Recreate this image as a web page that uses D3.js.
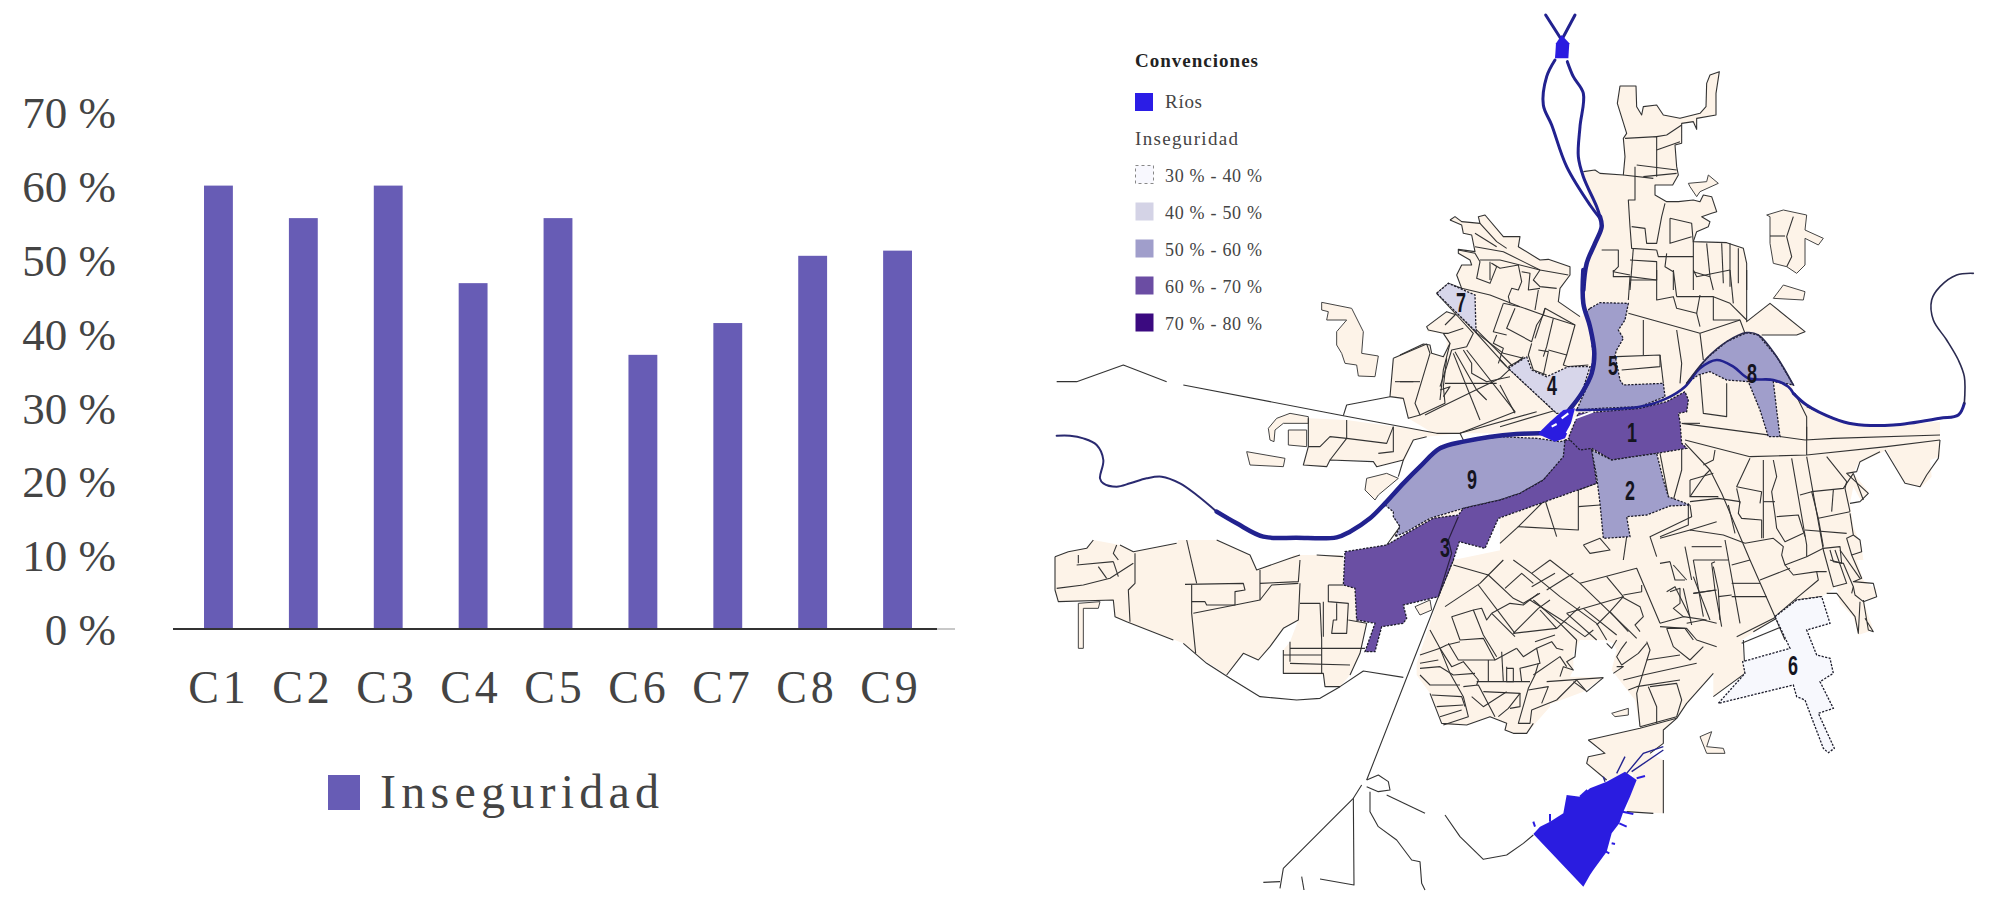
<!DOCTYPE html>
<html>
<head>
<meta charset="utf-8">
<script src="https://cdn.jsdelivr.net/npm/d3@7"></script>
<style>
  html, body { margin: 0; background: #fff; }
  text { font-family: "Liberation Serif", serif; fill: #444; }
  .axis path, .axis line { display: none; }
</style>
</head>
<body>
<svg id="chart" width="1999" height="909"></svg>
<script>
// bar chart data
var categories = ["C1","C2","C3","C4","C5","C6","C7","C8","C9"];
var inseguridad = [60, 55.6, 60, 46.8, 55.6, 37.1, 41.4, 50.5, 51.2];
var yTicks = [0,10,20,30,40,50,60,70];

// map legend
var legendRanges = ["30 % - 40 %","40 % - 50 %","50 % - 60 %","60 % - 70 %","70 % - 80 %"];
var legendColors = ["#f8f8fe","#d4d3e6","#a09ecb","#6b4da3","#3b0a80"];

// map tiles: traced points are flat x,y lists in the coordinates of each tile
var tileOrigins = {A:[1050,270], B:[1500,270], C:[1050,540], D:[1500,540], E:[1480,10], P:[1400,200], Q:[1420,560], R:[1660,440]};

var landFill = [
 ["E",[310,485,345,480,360,490,430,495,435,440,430,385,440,370,412,280,420,228,468,228,470,290,485,315,490,290,530,285,550,315,600,325,660,310,678,290,680,220,690,195,718,185,708,250,708,315,650,325,650,358,640,335,605,340,605,400,585,405,590,470,595,495,578,525,525,525,525,555,560,575,595,575,640,570,660,575,670,555,695,560,710,605,695,610,665,620,690,635,685,650,650,665,640,695,740,698,790,715,800,760,800,840,310,840,320,760,350,700,365,650,360,620,330,585]],
 ["B",[250,0,740,0,740,155,810,100,915,185,890,195,785,195,875,340,880,370,920,410,1000,445,1060,462,1180,465,1320,455,1320,560,1290,570,1295,620,1265,650,1215,640,1160,540,1075,580,1060,610,1105,665,1085,695,1060,650,1050,700,1060,770,1085,830,1090,870,0,870,0,500,110,480,250,130]],
 ["B",[180,60,130,115,225,170,255,150,275,290,220,410,170,430,0,470,0,0,100,0]],
 ["P",[150,60,165,50,185,65,240,70,235,50,255,45,310,110,360,110,355,140,420,180,445,178,510,200,510,225,480,265,475,305,540,350,550,350,575,420,570,500,540,600,0,600,0,465,70,432,90,435,95,460,130,470,150,430,130,400,85,390,80,380,140,335,170,345,110,280,145,250,185,265,170,225,185,195,215,195,210,180,175,160,175,148,225,155,215,105,190,100,185,75]],
 ["A",[1030,265,1130,222,1140,245,1190,265,1190,190,1130,185,1215,120,1160,65,1190,42,1240,60,1225,0,1500,0,1500,490,1230,490,1150,490,1075,445,1060,385,1020,380]],
 ["A",[775,445,890,450,1145,485,1230,490,1130,500,1090,510,1065,570,980,590,970,570,840,570,830,590,760,585,775,530]],
 ["A",[1005,705,1060,640,1120,590,1180,530,1250,510,1250,720,1030,800,1010,825,1050,770,1030,740,1030,725]],
 ["C",[15,50,55,35,110,25,130,0,210,15,250,35,380,10,385,0,500,0,600,45,620,90,720,55,730,45,870,45,880,50,880,135,915,145,920,240,950,250,930,340,900,405,870,440,825,440,820,405,700,400,700,330,720,305,745,240,700,265,660,320,625,360,580,340,530,405,440,345,400,310,230,245,195,230,190,180,25,185,15,150]],
 ["C",[1210,60,1500,0,1500,500,1430,580,1390,580,1365,570,1370,550,1345,540,1320,530,1250,555,1180,555,1140,460,1100,405,1100,370,1130,280,1165,175]],
 ["D",[0,0,1085,0,1060,30,1090,120,1130,150,1125,175,1090,180,1120,270,1075,285,1060,230,1020,190,1010,140,965,170,890,180,830,235,725,300,735,400,640,470,640,400,560,490,530,535,490,570,490,610,450,640,490,660,490,820,380,815,400,700,320,720,260,670,265,650,315,640,265,600,420,565,405,480,335,390,350,330,340,310,315,300,240,300,220,340,220,390,210,410,310,412,250,455,170,485,95,510,100,550,80,580,40,580,15,570,20,550,0,540]]
];

var islands = [
 ["A",[815,97,905,115,940,185,935,250,985,258,975,320,925,318,920,285,885,280,875,250,860,225,860,185,890,150,830,150,835,125,815,120]],
 ["A",[590,545,705,565,700,590,600,585]],
 ["A",[715,480,770,480,770,530,715,525]],
 ["A",[660,510,655,475,680,445,720,430,775,440,775,460,700,460,675,480,672,515]],
 ["A",[950,625,1010,610,1045,625,985,675,975,690,945,660]],
 ["E",[860,615,910,600,980,615,975,660,1030,685,1015,705,975,685,975,765,950,790,920,770,880,760,870,700,870,620]],
 ["E",[625,520,680,515,685,495,715,520,660,545,650,560,630,530]],
 ["B",[820,85,850,45,915,65,910,90]],
 ["C",[1095,200,1140,180,1145,210,1110,225]],
 ["C",[85,190,150,185,145,205,100,205,100,325,85,325]],
 ["D",[600,590,635,575,620,620,670,625,675,640,620,640]],
 ["D",[335,520,385,505,385,525,345,530]]
];

var streetsNorth = [
 ["E",[310,485,345,480,360,490,430,495,435,440,430,385,440,370,412,280,420,228,468,228,470,290,485,315,490,290,530,285,550,315,600,325,660,310,678,290,680,220,690,195,718,185,708,250,708,315,650,325,650,358,640,335,605,340,605,400,585,405,590,470,595,495,578,525,525,525,525,555,560,575,595,575,640,570,660,575,670,555,695,560,710,605,695,610,665,620,690,635,685,650,650,665,640,695,740,698,790,715,800,760,800,840]],
 ["E",[465,470,465,570,445,570,450,650,455,715,530,720]],
 ["E",[435,385,530,380,530,500]],["E",[530,420,600,395]],["E",[530,380,560,375,605,345]],["E",[470,465,590,480]],["E",[490,500,590,490]],
 ["E",[430,495,520,505]],["E",[555,580,545,620,530,700,500,700,495,655,455,650]],["E",[570,625,570,700,635,680]],["E",[570,625,635,640,640,700,640,840]],
 ["E",[680,700,690,800]],["E",[725,700,730,820]],["E",[750,700,750,830]],["E",[775,715,775,820]],["E",[460,715,450,840]],
 ["E",[365,720,415,720,415,770,400,785,450,795]],["E",[450,750,530,755,530,810,450,800]],["E",[530,720,535,740,640,740]],["E",[560,730,555,770,580,785,580,840]],["E",[640,785,690,800,700,840]],
 ["E",[870,678,915,678]],["E",[940,620,920,680,935,740,920,770]]
];

var streetsNorthWest = [
 ["P",[150,60,165,50,185,65,240,70,235,50,255,45,310,110,360,110,355,140,420,180,445,178,510,200,510,225,480,265,475,305,540,350]],
 ["P",[150,60,185,75,190,100,215,105,225,155,175,148,175,160,210,180,215,195,185,195,170,225,185,265,145,250,110,280,170,345,140,335,80,380,85,390,130,400,150,430,130,470,95,460,90,435,70,432,0,465]],
 ["P",[225,140,310,155,420,210,505,225]],["P",[240,70,290,125,320,145]],["P",[225,100,290,140]],
 ["P",[175,150,225,160,240,185,230,235,270,250,290,200,275,190,300,205,355,195,365,245,355,270,335,265,325,290,330,310]],
 ["P",[240,180,300,180,420,210,400,240,420,260,470,265]],["P",[270,185,270,240]],["P",[365,215,390,220,385,270,420,265]],
 ["P",[185,265,270,285,360,320,430,345,525,375,500,465,445,450]],["P",[310,310,280,395,320,405]],["P",[310,310,360,320]],
 ["P",[345,325,320,385,395,425,410,375,430,345]],["P",[435,325,405,415]],["P",[430,345,435,325,525,375]],["P",[415,270,405,330]],["P",[460,355,440,440,430,470]],
 ["P",[225,395,310,460,370,475]],["P",[290,405,280,430,310,445,295,490]],["P",[395,430,385,465,400,510,440,525]],["P",[415,450,445,455,430,525]],["P",[500,465,490,495,505,500,565,495]],["P",[325,500,370,475]],
 ["P",[115,280,225,395,320,500]],["P",[165,345,135,375]],["P",[190,385,145,400,130,400]],["P",[170,345,220,400,200,440,155,450,140,500,120,560]],["P",[150,430,130,510,120,600]],["P",[165,455,230,570,260,600]],["P",[190,450,215,490,215,520,260,545,330,530]],["P",[0,545,60,545]],["P",[120,570,150,560,130,590]],
 ["A",[1190,265,1180,350,1185,400,1110,435]],["A",[1125,435,1185,405,1350,325,1420,260]],["A",[1210,250,1290,450]],["A",[1250,240,1395,425,1230,490]],["A",[1185,340,1340,340]],
 ["A",[1030,265,1130,222,1140,250,1095,400,1110,435,1075,445,1060,385,1020,380,1030,265]],
 ["A",[1275,175,1400,300,1500,410]],
 ["A",[880,437,890,405,1020,380]],["A",[1035,335,1090,335]],
 ["B",[0,270,25,295,170,430]],["B",[0,470,170,420]],["B",[0,345,45,430]]
];

var streetsWest = [
 ["A",[20,335,80,335,220,285,350,335]],["A",[400,345,880,437,1160,490,1230,490,1460,425]],
 ["A",[775,445,775,530,760,585,830,590,840,570,970,575,980,590,1060,570,1090,510,1130,500]],["A",[775,530,810,530,840,500,890,505,1010,520,1030,470]],["A",[890,450,890,505,840,570]],["A",[985,550,1030,545,1030,470]],
 ["A",[1060,570,1045,620]],["A",[1230,490,1240,510]],["A",[1030,725,1050,770,1010,825]],
 ["C",[15,50,55,35,110,25,130,0]],["C",[210,15,250,35,380,10]],["C",[500,0,600,45,620,90,720,55,750,45]],["C",[800,45,880,50]],["C",[15,50,15,150,25,185,190,180,195,230,230,245,370,300]],
 ["C",[410,0,440,130]],["C",[405,133,580,130,585,150,555,155,555,195,430,220]],["C",[425,135,425,220,437,340]],["C",[425,185,465,185,470,195,555,195,630,180,630,90]],["C",[630,130,745,125,750,60]],["C",[630,180,665,135,745,130]],
 ["C",[750,130,745,240,700,265,660,320,625,360,580,340,530,405]],["C",[750,190,810,190,815,300,815,400]],["C",[835,135,880,135]],["C",[835,135,835,185,895,190,890,280,845,280,850,240,860,240,860,190]],["C",[820,185,820,290]],["C",[895,240,950,250,930,340,900,405]],
 ["C",[720,325,945,325]],["C",[700,345,815,345]],["C",[720,370,900,375]],["C",[700,330,700,400,820,400,825,440,870,440]],["C",[720,305,720,365]],
 ["C",[255,40,255,130,235,150,240,245]],["C",[20,145,100,135,180,115,250,70]],["C",[85,70,85,45]],["C",[80,75,190,65]],["C",[145,80,170,115]],["C",[190,65,205,110]],["C",[200,15,190,40,205,60]],
 ["C",[400,310,470,370,540,415,630,470,740,480,810,475,870,440,940,393,1060,412]],["C",[1210,60,1165,170,950,720]],["C",[950,720,985,705,1015,725,1020,750,985,755,950,740]],
 ["C",[960,755,960,815,985,860,1040,900,1085,960,1110,965,1115,1030,1125,1050]],["C",[1010,765,1125,820]],["C",[1185,825,1230,890,1300,958,1370,945,1420,910,1450,885]],
 ["C",[935,735,910,775,855,830,700,985,690,1045]],["C",[910,775,912,1035,810,1017]],["C",[755,1010,762,1050]],["C",[640,1027,690,1025]]
];

var streetsSouth = [
 ["Q",[100,15,205,45,250,0]],["Q",[75,140,180,70,205,45,280,115,310,130,360,100]],["Q",[215,160,270,130,310,135,355,100]],["Q",[175,75,285,220]],
 ["Q",[255,85,305,40,340,70]],["Q",[280,0,335,40,420,110,530,190,560,240]],["Q",[390,0,480,70,620,205,650,235]],["Q",[335,40,390,0]],["Q",[335,80,405,40]],["Q",[330,120,440,190,495,230,520,210]],["Q",[380,90,460,40]],["Q",[340,120,420,190,470,240]],
 ["Q",[480,70,650,25,720,190]],["Q",[560,50,610,110,570,155,530,195]],["Q",[610,105,665,95,665,75]],["Q",[605,110,660,140,670,170,645,195,660,215]],["Q",[440,160,610,110]],["Q",[440,160,530,240]],["Q",[490,145,590,225]],["Q",[570,155,625,215]],
 ["Q",[280,220,355,145,390,120]],["Q",[410,205,360,150]],["Q",[280,220,410,205,480,140]],["Q",[215,160,285,230]],
 ["Q",[95,170,160,150,185,145,200,180,215,160]],["Q",[160,150,190,225,230,290]],["Q",[95,170,120,240,190,235,225,300,290,265]],["Q",[85,250,115,300,225,300]],["Q",[60,265,95,320,130,305,175,360,170,375]],["Q",[0,285,60,265,80,255,120,245]],["Q",[0,310,55,300]],["Q",[0,325,60,320,100,345,165,340]],["Q",[30,210,60,265,90,340,130,410,145,470,70,495]],["Q",[0,345,30,375,120,375]],["Q",[35,405,125,410,135,440]],["Q",[50,440,130,435]],["Q",[60,470,125,450]],
 ["Q",[205,300,205,365]],["Q",[260,320,260,365,280,365,280,325,260,325]],["Q",[245,275,250,365]],["Q",[290,265,310,290,350,265,360,310,300,325,305,365]],["Q",[350,265,395,245,410,265,430,270]],["Q",[355,310,345,345,325,385,295,490,330,490,335,450,410,420,470,360]],["Q",[340,345,420,290,440,320]],
 ["Q",[170,365,330,365]],["Q",[190,395,300,400,265,445,235,470]],["Q",[130,380,175,375,225,470]],["Q",[155,410,190,440,260,395]],["Q",[300,400,300,440,270,445]],["Q",[325,390,385,380,365,430]],["Q",[380,365,550,353]],["Q",[470,360,500,395,550,353]],["Q",[460,365,495,390]],
 ["Q",[30,400,65,490,140,495,210,470,235,480,260,490,255,510,280,520,320,520,340,490]],["Q",[345,245,405,225]],["Q",[470,240,465,290,440,305,460,330,430,320,420,350]],
 ["Q",[590,240,575,265,560,250]],["Q",[620,245,605,265,590,290,605,315,655,280,680,250]],["Q",[590,320,610,320,580,340]],["Q",[680,245,690,270,650,400,660,500]],["Q",[680,300,780,285]],["Q",[610,360,670,345,830,310]],["Q",[625,390,650,380,780,360]],["Q",[690,380,770,370,785,420,770,470,660,500]],["Q",[685,380,710,440,710,490]],
 ["Q",[740,205,800,205,830,240,890,260]],["Q",[740,205,760,260,810,300,850,260]],["Q",[720,190,790,170,860,180]],["Q",[750,95,780,85,780,130,760,145,790,170]],["Q",[790,85,815,195]],["Q",[820,100,890,90]],["Q",[820,50,870,180]],["Q",[880,20,895,90,900,180]],["Q",[760,15,800,60]],
 ["D",[725,310,870,250]],["D",[760,275,830,235,890,180,965,170]],
 ["D",[730,300,735,400,640,470]],["D",[640,400,560,490,530,535,490,570,490,610,450,640]],["D",[265,600,420,565,530,535]],["D",[265,600,315,640,265,650,260,670,320,720]],["D",[490,660,490,820]],["D",[380,815,460,820]]
];

var streetsEast = [
 ["R",[75,0,270,50,440,45,680,20,840,0]],["R",[675,30,735,130,780,140,800,105,835,55,840,0]],["R",[600,65,660,35]],["R",[600,65,590,95,560,100,625,160,600,185,570,190]],["R",[570,220,580,285,600,300,605,335,575,345,560,295,580,285]],["R",[575,345,605,415,580,425,640,430,650,470,610,485,585,465,580,440]],["R",[600,485,595,580,585,530,530,460,500,460]],["R",[610,480,625,570,640,575,615,535]],
 ["R",[75,10,150,90,185,160,270,360,345,530,375,600]],["R",[165,30,160,60,130,75]],["R",[90,170,135,105,150,90]],["R",[90,185,175,175,240,185,235,220,245,235,305,240,305,295]],["R",[270,55,230,140,305,155,300,190]],["R",[240,190,230,145]],["R",[310,60,310,295]],["R",[340,60,350,110,335,155,345,225,350,265,375,305,430,280]],["R",[310,185,345,185]],["R",[350,230,415,225,435,290]],["R",[395,55,440,315,440,350]],["R",[440,50,490,330,520,440,560,430,525,330]],["R",[420,165,455,155,550,145,580,100]],["R",[455,155,475,235,570,215]],["R",[520,150,515,215]],["R",[500,50,560,125,555,145,570,215]],["R",[475,235,490,320]],["R",[435,270,560,280]],["R",[580,100,610,180]],
 ["R",[255,310,340,295,370,320,365,345,375,375,440,350,490,325,540,320,545,370,510,360]],["R",[540,330,600,415]],["R",[510,330,520,365,550,370,580,440,575,460]],["R",[375,375,400,405,470,395,500,395]],["R",[470,395,475,420,415,470,345,530]],["R",[300,420,390,385]],["R",[270,360,215,375]],["R",[255,310,190,285,90,270,0,295]],["R",[205,195,225,280]],["R",[90,270,170,245]],["R",[0,290,85,255,85,190]],["R",[75,320,95,420]],["R",[95,320,185,320]],["R",[100,360,205,360]],["R",[195,300,240,550]],["R",[100,460,165,450]],["R",[165,365,155,370,165,450,185,560]],["R",[215,430,300,430]],["R",[215,470,320,470]],["R",[30,365,45,420,75,420]],["R",[0,370,30,365]],["R",[20,455,45,440,90,530]],["R",[100,360,130,530]],["R",[175,470,215,465]],["R",[80,550,130,540,170,550]],["R",[230,590,350,530]],["R",[0,560,75,565,100,600]],
 ["B",[740,0,740,155,810,100,915,185,890,195,785,195]],["B",[920,410,1000,445]],
 ["B",[545,460,770,490,915,510]],["B",[920,470,920,555]],["B",[915,510,1000,505,1320,495]],
 ["B",[480,550,505,680]],["B",[545,520,545,600,520,690]],["B",[570,630,640,610]],["B",[570,630,570,680,655,680]],
 ["B",[290,640,235,660,235,780,55,770,135,690]],["B",[235,710,300,705]],["B",[135,690,170,800]],["B",[55,770,0,820]],["B",[250,825,300,805,330,840,270,850,250,825]],["B",[380,800,370,870]],["B",[570,705,575,740,450,800,470,860]],
 ["B",[385,130,600,190,720,150]],["B",[430,150,430,255]],["B",[350,260,480,255,480,290,365,300]],["B",[480,255,490,340]],["B",[530,180,545,280,540,340]],["B",[600,190,610,270]],["B",[340,0,340,20,390,20,385,90]],["B",[390,30,470,30,470,90,520,80,530,115,590,130,600,170]],["B",[470,0,470,30]],["B",[520,0,530,80]],["B",[590,130,600,75]],["B",[530,80,640,80,640,150,720,150,735,190]],["B",[580,0,590,20,690,0]],["B",[640,80,690,100,740,150]],["B",[690,0,700,100]],["B",[600,310,610,430,680,440,680,340]],["B",[550,460,600,460]],["B",[885,370,920,440,920,510]]
];

// regions: [name, tile, ring]
var regionFills = {c1:"#6a4fa3", c2:"#a09ecb", c3:"#6a4fa3", c4:"#d7d6ea", c5:"#a09ecb", c6:"#f7f8fd", c7:"#d7d6ea", c8:"#a09ecb", c9:"#a09ecb"};
var regions = [
 ["c9","A",[1005,705,1060,640,1110,590,1170,530,1240,515,1350,500,1460,505,1530,515,1550,510,1545,560,1480,630,1410,670,1350,690,1240,715,1140,745,1070,785,1035,800,1050,770,1030,740,1030,725]],
 ["c3","A",[1545,510,1560,510,1625,535,1640,640,1345,745,1305,835,1228,815,1210,870,1165,980,1060,1005,1070,1045,1060,1060,995,1070,975,1145,945,1145,975,1060,920,1050,915,955,880,945,885,845,1010,825,1070,790,1150,745,1225,735,1240,715,1350,690,1410,670,1480,630,1540,560]],
 ["c1","B",[235,430,300,425,420,415,500,395,555,365,565,390,560,425,535,430,540,455,545,520,560,535,470,550,335,570,275,535,240,540,205,505]],
 ["c2","B",[275,540,335,570,470,550,490,630,505,680,570,705,510,708,440,735,380,740,390,800,310,805,300,700,290,620]],
 ["c5","B",[270,115,300,98,385,100,375,150,355,180,370,205,350,240,345,255,360,330,370,345,490,340,495,380,420,410,300,415,230,420,270,330,280,260,270,170,255,130]],
 ["c4","B",[25,295,80,260,95,300,140,320,205,290,270,290,245,370,195,430,170,430,100,365]],
 ["c8","B",[560,340,620,265,680,215,740,188,775,195,830,260,880,345,855,340,820,335,830,420,840,500,805,500,780,420,745,335,680,330,630,305,595,315]],
 ["c7","P",[110,280,145,250,225,285,228,395]],
 ["c6","D",[825,230,890,180,965,170,990,250,920,270,950,345,990,355,1000,400,960,425,1000,505,955,520,1003,625,985,638,970,625,930,520,915,480,890,470,880,435,655,490,735,400,728,365,870,325]]
];
var regionLabels = [["1",1632,432],["2",1630,490],["3",1445,547],["4",1552,385],["5",1613,365],["6",1793,665],["7",1461,302],["8",1752,373],["9",1472,479]];

// rivers: [tile, width, colour, points]
var rivers = [
 ["E",3,"#20208f",[197,15,245,90]],["E",3,"#20208f",[285,15,245,90]],
 ["E",3,"#20208f",[225,150,200,200,190,285,215,345,260,470,330,585,360,625]],
 ["E",3,"#20208f",[262,155,280,200,310,250,300,350,295,440,310,500,350,590,360,620]],
 ["E",4.5,"#20208f",[360,620,365,650,345,700,320,760,310,840]],
 ["B",4.5,"#20208f",[250,0,250,100,270,170,283,250,275,310,245,370,200,430,170,470]],
 ["A",2,"#2a2a70",[20,497,60,497,100,505,140,525,160,570,150,625,160,640,200,650,240,640,290,625,335,620,390,640,440,675,500,725]],
 ["A",4.5,"#20208f",[500,725,560,760,640,800,740,803,860,802,900,785,960,745,1005,700,1060,640,1110,590,1170,535,1240,515,1400,492,1500,490]],
 ["B",2.6,"#20208f",[230,420,420,410,500,385,555,350,600,295,650,270,700,290,745,325,820,330,865,350,880,370]],
 ["B",3,"#20208f",[880,370,920,405,1000,445,1060,462,1180,465,1320,445,1375,435,1393,400]],
 ["B",1.6,"#2a2a50",[1393,400,1393,320,1375,270,1340,210,1300,150,1295,90,1320,50,1370,15,1420,10]],
 ["B",1.6,"#2a2a50",[560,340,620,265,680,215,740,188,775,195,830,260,880,345]]
];
var waterBodies = [
 ["E",[245,75,268,100,265,145,225,145,228,100]],
 ["B",[115,490,150,455,190,420,225,415,210,470,195,505,165,515,120,495]],
 ["D",[100,882,120,860,150,845,190,820,200,765,240,770,270,745,320,725,375,695,410,720,390,770,370,815,358,850,335,880,320,935,280,990,270,1005,250,1040]]
];
var reservoirSpikes = [
 ["D",[105,860,100,845]],["D",[150,845,150,822]],["D",[240,770,262,750]],["D",[410,715,435,708]],["D",[385,770,360,770]],["D",[378,790,358,790]],["D",[368,815,400,822]],["D",[358,850,380,860]],["D",[335,910,345,912]],["D",[318,935,328,940]]
];
var reservoirBranches = [
 ["D",[350,700,375,650]],["D",[380,700,430,640,490,620]],["D",[395,695,490,630]],["D",[315,725,310,710]]
];
var junctionGaps = [["B",[200,490,225,445,280,425]],["B",[155,470,170,462]],["B",[185,445,205,430]]];

var tileScale = {};
Object.keys(tileOrigins).forEach(function(k){
    var o = tileOrigins[k];
    tileScale[k] = {
        x: d3.scaleLinear().domain([0, 3]).range([o[0], o[0] + 1]),
        y: d3.scaleLinear().domain([0, 3]).range([o[1], o[1] + 1])
    };
});

// flat x,y list to a path through the scales of its tile
function tracePath(tile, flat, closed, curve){
    var pts = [];
    for (var i = 0; i < flat.length; i += 2){ pts.push([flat[i], flat[i+1]]); }
    var s = tileScale[tile];
    var line = d3.line().x(function(d){ return s.x(d[0]); }).y(function(d){ return s.y(d[1]); });
    if (curve) line.curve(d3.curveCatmullRom);
    return line(pts) + (closed ? "Z" : "");
}

var svg = d3.select("#chart");

// ---- bar chart ----
var x = d3.scaleBand().domain(categories).range([176, 940]).paddingInner(0.66).paddingOuter(0.33);
var xLabels = d3.scaleBand().domain(categories).range([177, 933]);
var y = d3.scaleLinear().domain([0, 70]).range([629, 111.7]);

svg.append("g").selectAll("rect").data(inseguridad).join("rect")
    .attr("x", function(d, i){ return x(categories[i]); })
    .attr("y", function(d){ return y(d); })
    .attr("width", x.bandwidth())
    .attr("height", function(d){ return y(0) - y(d); })
    .attr("fill", "#675cb5");

svg.append("line").attr("x1", 173).attr("x2", 955).attr("y1", y(0)).attr("y2", y(0)).attr("stroke", "#c8c8c8").attr("stroke-width", 2);
svg.append("line").attr("x1", 173).attr("x2", 937).attr("y1", y(0)).attr("y2", y(0)).attr("stroke", "#333").attr("stroke-width", 2);

svg.append("g").attr("class", "axis").attr("transform", "translate(116,0)")
    .call(d3.axisLeft(y).tickValues(yTicks).tickSize(0).tickPadding(0).tickFormat(function(d){ return d + " %"; }))
    .selectAll("text")
    .attr("dy", "0.35em")
    .style("font-family", '"Liberation Serif", serif')
    .style("font-size", "45px")
    .attr("fill", "#444");

svg.append("g").attr("class", "axis").attr("transform", "translate(0,703)")
    .call(d3.axisBottom(xLabels).tickSize(0).tickPadding(0))
    .selectAll("text")
    .attr("y", 0).attr("dy", 0)
    .style("font-family", '"Liberation Serif", serif')
    .style("font-size", "46px")
    .style("letter-spacing", "4px")
    .attr("fill", "#444");

svg.append("rect").attr("x", 328).attr("y", 775).attr("width", 32).attr("height", 35).attr("fill", "#675cb5");
svg.append("text").attr("x", 380).attr("y", 808)
    .attr("textLength", 279)
    .style("font-size", "48px")
    .text("Inseguridad");

// ---- map ----
var defs = svg.append("defs");
defs.append("filter").attr("id", "soft").append("feGaussianBlur").attr("stdDeviation", 0.35);
var map = svg.append("g").attr("filter", "url(#soft)");

landFill.forEach(function(d){
    map.append("path").attr("d", tracePath(d[0], d[1], true)).attr("fill", "#fdf3e8");
});
islands.forEach(function(d){
    map.append("path").attr("d", tracePath(d[0], d[1], true)).attr("fill", "#fdf3e8").attr("stroke", "#444").attr("stroke-width", 1);
});
[streetsNorth, streetsNorthWest, streetsWest, streetsSouth, streetsEast].forEach(function(group){
    group.forEach(function(d){
        map.append("path").attr("d", tracePath(d[0], d[1], false)).attr("fill", "none").attr("stroke", "#333").attr("stroke-width", 1.1).attr("stroke-linejoin", "round");
    });
});
regions.forEach(function(d){
    map.append("path").attr("d", tracePath(d[1], d[2], true))
        .attr("fill", regionFills[d[0]])
        .attr("stroke", "#1c1c2c").attr("stroke-width", 1.3).attr("stroke-dasharray", "2.2 1.4");
});
// road across region 3
map.append("path").attr("d", tracePath("A", [1225,740,1195,810,1205,850,1165,980], false)).attr("fill", "none").attr("stroke", "#2a2040").attr("stroke-width", 1.2);

rivers.forEach(function(d){
    map.append("path").attr("d", tracePath(d[0], d[3], false, true)).attr("fill", "none").attr("stroke", d[2]).attr("stroke-width", d[1]).attr("stroke-linejoin", "round").attr("stroke-linecap", "round");
});
waterBodies.forEach(function(d){
    map.append("path").attr("d", tracePath(d[0], d[1], true)).attr("fill", "#2c1fe0");
});
reservoirSpikes.forEach(function(d){
    map.append("path").attr("d", tracePath(d[0], d[1], false)).attr("fill", "none").attr("stroke", "#2c1fe0").attr("stroke-width", 2);
});
reservoirBranches.forEach(function(d){
    map.append("path").attr("d", tracePath(d[0], d[1], false)).attr("fill", "none").attr("stroke", "#23238f").attr("stroke-width", 1.4);
});
junctionGaps.forEach(function(d){
    map.append("path").attr("d", tracePath(d[0], d[1], false)).attr("fill", "none").attr("stroke", "#fff").attr("stroke-width", 2);
});

svg.append("g").selectAll("text").data(regionLabels).join("text")
    .attr("x", function(d){ return d[1] - 5; })
    .attr("y", function(d){ return d[2]; })
    .attr("dy", "0.36em")
    .attr("textLength", 10)
    .attr("lengthAdjust", "spacingAndGlyphs")
    .style("font-family", '"Liberation Sans", sans-serif')
    .style("font-size", "27px")
    .style("font-weight", "bold")
    .style("fill", "#15151f")
    .text(function(d){ return d[0]; });

// ---- map legend ----
var legend = svg.append("g");
legend.append("text").attr("x", 1135).attr("y", 67).attr("textLength", 123)
    .style("font-size", "19px").style("font-weight", "bold").style("fill", "#222").text("Convenciones");
legend.append("rect").attr("x", 1135).attr("y", 93).attr("width", 18).attr("height", 18).attr("fill", "#2b1de6");
legend.append("text").attr("x", 1165).attr("y", 108).attr("textLength", 37).style("font-size", "19px").text("Ríos");
legend.append("text").attr("x", 1135).attr("y", 145).attr("textLength", 103).style("font-size", "19px").text("Inseguridad");

var legendY = d3.scalePoint().domain(legendRanges).range([181.5, 329.5]);
legend.selectAll("rect.range").data(legendRanges).join("rect")
    .attr("class", "range")
    .attr("x", 1135.5)
    .attr("y", function(d){ return legendY(d) - 16; })
    .attr("width", 18).attr("height", 18)
    .attr("fill", function(d, i){ return legendColors[i]; })
    .attr("stroke", function(d, i){ return i == 0 ? "#888" : "none"; })
    .attr("stroke-dasharray", "3 3");
legend.selectAll("text.range").data(legendRanges).join("text")
    .attr("class", "range")
    .attr("x", 1165)
    .attr("y", function(d){ return legendY(d); })
    .attr("textLength", 97)
    .style("font-size", "18px")
    .text(function(d){ return d; });
</script>
</body>
</html>
